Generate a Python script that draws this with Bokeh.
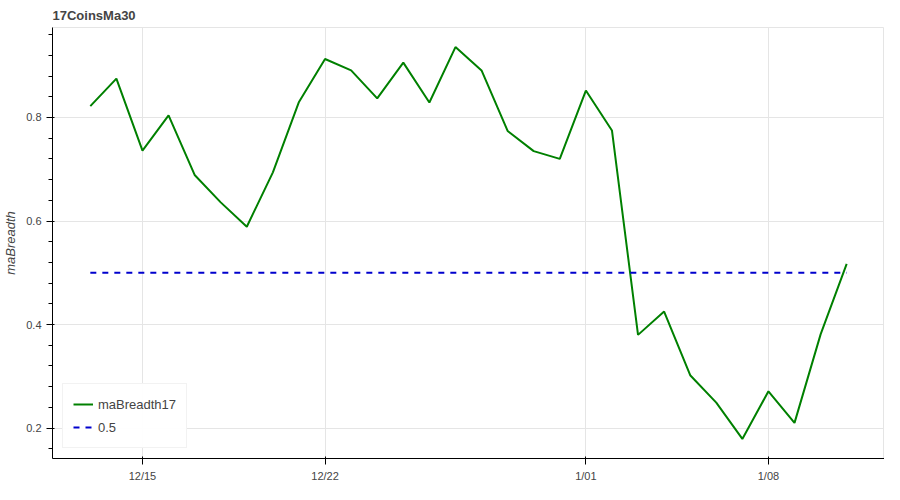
import datetime as dt
from bokeh.plotting import figure
from bokeh.models import FixedTicker
from bokeh.embed import file_html
from bokeh.resources import INLINE

# ---- data ----
start = dt.datetime(2023, 12, 13)
dates = [start + dt.timedelta(days=i) for i in range(30)]
ma_breadth17 = [
    0.822, 0.875, 0.736, 0.804, 0.689, 0.636, 0.589, 0.694, 0.830, 0.913,
    0.891, 0.837, 0.906, 0.829, 0.936, 0.891, 0.774, 0.735, 0.720, 0.852,
    0.775, 0.380, 0.425, 0.302, 0.249, 0.179, 0.271, 0.210, 0.381, 0.517,
]
threshold = [0.5] * len(dates)
tick_dates = [dt.datetime(2023, 12, 15), dt.datetime(2023, 12, 22),
              dt.datetime(2024, 1, 1), dt.datetime(2024, 1, 8)]
tick_labels = ["12/15", "12/22", "1/01", "1/08"]

# ---- figure ----
p = figure(width=884, height=484, x_axis_type="datetime", title="17CoinsMa30",
           output_backend="svg", toolbar_location=None, min_border_right=0,
           min_border_bottom=0)

p.line(dates, ma_breadth17, line_color="green", line_width=2, legend_label="maBreadth17")
p.line(dates, threshold, line_color="mediumblue", line_width=2, line_dash="dashed", legend_label="0.5")

def to_ms(d):
    return (d - dt.datetime(1970, 1, 1)).total_seconds() * 1000.0

ticks_ms = [to_ms(d) for d in tick_dates]
p.xaxis.ticker = FixedTicker(ticks=ticks_ms)
p.xaxis.major_label_overrides = {t: l for t, l in zip(ticks_ms, tick_labels)}
p.xaxis.minor_tick_line_color = None
p.yaxis.axis_label = "maBreadth"

p.legend.location = "bottom_left"

open("out.html", "w").write(file_html(p, INLINE))
